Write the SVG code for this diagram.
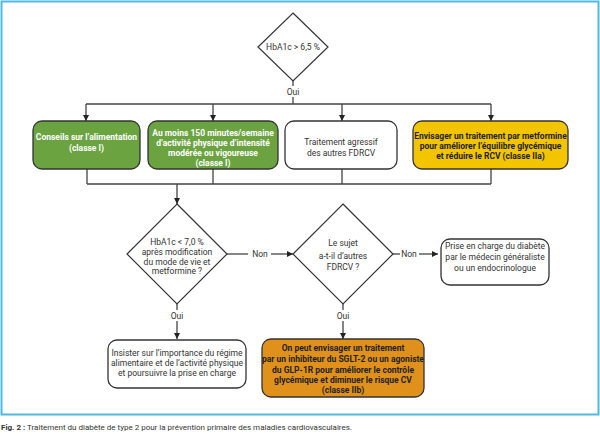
<svg xmlns="http://www.w3.org/2000/svg" width="600" height="436" viewBox="0 0 600 436">
<defs>
<marker id="arr" viewBox="0 0 10 10" refX="10" refY="5" markerWidth="6" markerHeight="6" markerUnits="userSpaceOnUse" orient="auto">
<path d="M0,0 L10,5 L0,10 z" fill="#222"/>
</marker>
</defs>
<style>
.t{font-family:Roboto,"Liberation Sans",sans-serif;font-size:8.5px;fill:#333;text-anchor:middle}
.b{font-weight:bold;fill:#fff}
.bk{font-weight:bold;fill:#222}
.box{stroke:#333;stroke-width:1.3}
.ln{fill:none;stroke:#444;stroke-width:1.3}
.dm{fill:#fff;stroke:#333;stroke-width:1.2}
.cap{font-family:Roboto,"Liberation Sans",sans-serif;font-size:8px;fill:#333}
</style>
<rect x="1.5" y="1.5" width="597" height="413" fill="#fff" stroke="#4fb9e2" stroke-width="2"/>
<g id="connectors">
<path class="ln" d="M293,81 V86"/>
<path class="ln" d="M293,97 V104"/>
<path class="ln" d="M86,104 H491"/>
<path class="ln" d="M86,104 V121" marker-end="url(#arr)"/>
<path class="ln" d="M213,104 V121" marker-end="url(#arr)"/>
<path class="ln" d="M342,104 V121" marker-end="url(#arr)"/>
<path class="ln" d="M491,104 V121" marker-end="url(#arr)"/>
<path class="ln" d="M87,169 V184 M213,169 V184 M342,169 V184 M491,169 V184 M87,184 H491"/>
<path class="ln" d="M177,184 V204" marker-end="url(#arr)"/>
<path class="ln" d="M227,254 H248"/>
<path class="ln" d="M271,254 H293" marker-end="url(#arr)"/>
<path class="ln" d="M393,254 H400"/>
<path class="ln" d="M419,254 H438" marker-end="url(#arr)"/>
<path class="ln" d="M177,304 V310"/>
<path class="ln" d="M177,321 V339" marker-end="url(#arr)"/>
<path class="ln" d="M343,304 V310"/>
<path class="ln" d="M343,321 V339" marker-end="url(#arr)"/>
<text class="t" x="293" y="95">Oui</text>
<text class="t" x="260" y="257">Non</text>
<text class="t" x="409" y="257">Non</text>
<text class="t" x="177" y="319">Oui</text>
<text class="t" x="343" y="319">Oui</text>
</g>
<g id="d1">
<path class="dm" d="M293,13 L328,47 L293,81 L258,47 z"/>
<text class="t" x="293" y="50">HbA1c &gt; 6,5 %</text>
</g>
<g id="n1">
<rect class="box" x="33" y="121" width="107" height="48" rx="9" fill="#6aa33f"/>
<text class="t b" x="86.5" y="140">Conseils sur l’alimentation</text>
<text class="t b" x="86.5" y="151">(classe I)</text>
</g>
<g id="n2">
<rect class="box" x="148" y="121" width="130" height="48" rx="9" fill="#6aa33f"/>
<text class="t b" x="213" y="136">Au moins 150 minutes/semaine</text>
<text class="t b" x="213" y="146">d’activité physique d’intensité</text>
<text class="t b" x="213" y="156">modérée ou vigoureuse</text>
<text class="t b" x="213" y="166">(classe I)</text>
</g>
<g id="n3">
<rect class="box" x="285" y="121" width="112" height="48" rx="9" fill="#fff"/>
<text class="t" x="341" y="145">Traitement agressif</text>
<text class="t" x="341" y="156">des autres FDRCV</text>
</g>
<g id="n4">
<rect class="box" x="413" y="121" width="155" height="48" rx="9" fill="#f2c500"/>
<text class="t bk" x="490.5" y="139">Envisager un traitement par metformine</text>
<text class="t bk" x="490.5" y="149">pour améliorer l’équilibre glycémique</text>
<text class="t bk" x="490.5" y="159">et réduire le RCV (classe IIa)</text>
</g>
<g id="d2">
<path class="dm" d="M177,204 L227,254 L177,304 L127,254 z"/>
<text class="t" x="177" y="245">HbA1c &lt; 7,0 %</text>
<text class="t" x="177" y="255">après modification</text>
<text class="t" x="177" y="264.5">du mode de vie et</text>
<text class="t" x="177" y="274">metformine ?</text>
</g>
<g id="d3">
<path class="dm" d="M343,204 L393,254 L343,304 L293,254 z"/>
<text class="t" x="343" y="246">Le sujet</text>
<text class="t" x="343" y="259">a-t-il d’autres</text>
<text class="t" x="343" y="270">FDRCV ?</text>
</g>
<g id="n5">
<rect class="box" x="441" y="239" width="108" height="46" rx="9" fill="#fff"/>
<text class="t" x="495" y="249">Prise en charge du diabète</text>
<text class="t" x="495" y="260">par le médecin généraliste</text>
<text class="t" x="495" y="270.5">ou un endocrinologue</text>
</g>
<g id="n6">
<rect class="box" x="108" y="340" width="138" height="48" rx="9" fill="#fff"/>
<text class="t" x="177" y="356">Insister sur l’importance du régime</text>
<text class="t" x="177" y="366">alimentaire et de l’activité physique</text>
<text class="t" x="177" y="376">et poursuivre la prise en charge</text>
</g>
<g id="n7">
<rect class="box" x="262" y="339" width="162" height="58" rx="9" fill="#e0911b"/>
<text class="t bk" x="343" y="351">On peut envisager un traitement</text>
<text class="t bk" x="343" y="362">par un inhibiteur du SGLT-2 ou un agoniste</text>
<text class="t bk" x="343" y="372.5">du GLP-1R pour améliorer le contrôle</text>
<text class="t bk" x="343" y="383">glycémique et diminuer le risque CV</text>
<text class="t bk" x="343" y="393">(classe IIb)</text>
</g>
<text class="cap" x="1" y="430"><tspan font-weight="bold">Fig. 2 :</tspan> Traitement du diabète de type 2 pour la prévention primaire des maladies cardiovasculaires.</text>
</svg>
